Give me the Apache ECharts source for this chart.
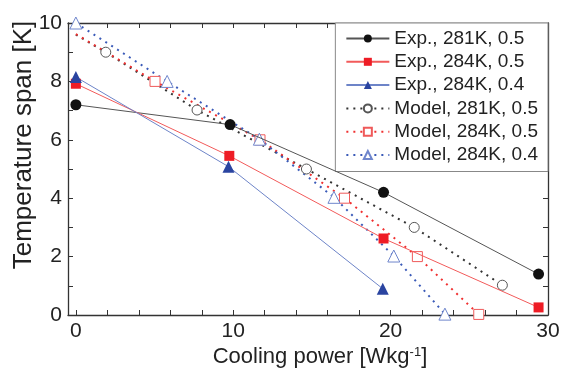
<!DOCTYPE html>
<html><head><meta charset="utf-8">
<script src="https://cdn.jsdelivr.net/npm/echarts@6/dist/echarts.min.js"></script>
<style>html,body{margin:0;padding:0;background:#fff}#c{width:564px;height:370px}</style>
</head><body><div id="c"></div>
<script>
// Experimental series [cooling power, temperature span]
const exp281_05 = [[0, 7.2], [9.8, 6.52], [19.55, 4.2], [29.4, 1.4]];
const exp284_05 = [[0, 7.92], [9.75, 5.45], [19.55, 2.62], [29.4, 0.26]];
const exp284_04 = [[0, 8.15], [9.7, 5.08], [19.5, 0.9]];
// Model series: line points, and which of them carry a marker
const mod281_05 = [[0, 9.6], [1.9, 9.0], [7.7, 7.02], [14.65, 5.0], [21.5, 3.0], [27.1, 1.02]];
const mod281_05_marked = [false, true, true, true, true, true];
const mod284_05 = [[0, 9.62], [5.03, 8.0], [11.7, 6.0], [17.07, 4.0], [21.7, 2.0], [25.6, 0.02]];
const mod284_05_marked = [false, true, true, true, true, true];
const mod284_04 = [[0, 10.0], [5.8, 8.0], [11.66, 6.02], [16.4, 4.03], [20.2, 2.02], [23.45, 0.03]];
const mod284_04_marked = [true, true, true, true, true, true];
const seriesNames = ['Exp., 281K, 0.5', 'Exp., 284K, 0.5', 'Exp., 284K, 0.4', 'Model, 281K, 0.5', 'Model, 284K, 0.5', 'Model, 284K, 0.4'];
const xLabelValues = [0, 10, 20, 30];
const xTickValues = [0, 2, 4, 6, 8, 10, 12, 14, 16, 18, 20, 22, 24, 26, 28, 30];

const chart = echarts.init(document.getElementById('c'), null, {renderer: 'canvas'});
const FONT = '"Liberation Sans", Arial, sans-serif';
const TXT = '#222';
const AX = '#333';

function marked(data, flags) {
  return data.map((d, i) => flags[i] ? d : {value: d, symbol: 'none'});
}
const dotType = [2, 5];

const xBase = {
  type: 'value', min: -0.5, max: 30,
  axisLine: {show: true, onZero: false, lineStyle: {color: AX, width: 1.3}},
  splitLine: {show: false},
};
const yBase = {
  type: 'value', min: 0, max: 10, interval: 2,
  axisLine: {show: true, onZero: false, lineStyle: {color: AX, width: 1.3}},
  splitLine: {show: false},
  minorTick: {show: true, splitNumber: 2, length: 5, lineStyle: {color: AX, width: 1}},
};

chart.setOption({
  animation: false,
  grid: {left: 68, right: 16, top: 23, bottom: 55, containLabel: false},
  xAxis: [
    Object.assign({}, xBase, {
      position: 'bottom',
      axisTick: {show: true, inside: true, length: 5, customValues: xTickValues, lineStyle: {color: AX, width: 1}},
      axisLabel: {show: true, customValues: xLabelValues, color: TXT, fontSize: 21, fontFamily: FONT, margin: 6},
    }),
    Object.assign({}, xBase, {
      position: 'top',
      axisTick: {show: true, inside: true, length: 5, customValues: xTickValues, lineStyle: {color: AX, width: 1}},
      axisLabel: {show: false},
    }),
  ],
  yAxis: [
    Object.assign({}, yBase, {
      position: 'left',
      axisTick: {show: true, inside: true, length: 5, lineStyle: {color: AX, width: 1}},
      axisLabel: {show: true, color: TXT, fontSize: 21, fontFamily: FONT, margin: 6},
    }),
    Object.assign({}, yBase, {
      position: 'right',
      axisTick: {show: true, inside: true, length: 5, lineStyle: {color: AX, width: 1}},
      axisLabel: {show: false},
    }),
  ],
  legend: {
    orient: 'vertical', right: 16, top: 23,
    padding: [6, 10, 7, 10], itemGap: 4.3, itemWidth: 43, itemHeight: 10,
    borderColor: '#888', borderWidth: 1, backgroundColor: '#fff',
    textStyle: {color: TXT, fontSize: 19, fontFamily: FONT},
    data: seriesNames,
  },
  graphic: [
    {type: 'text', z: 10,
      x: 24, y: 145, rotation: Math.PI / 2,
      style: {text: 'Temperature span [K]', fill: TXT, font: '26px "Liberation Sans", Arial, sans-serif', textAlign: 'center', textVerticalAlign: 'middle'}},
    {type: 'text', z: 10, x: 320, y: 357,
      style: {
        text: '{a|Cooling power [Wkg}{s|-1}{a|]}', textAlign: 'center', textVerticalAlign: 'middle',
        rich: {a: {fontSize: 22, fontFamily: FONT, fill: TXT, color: TXT}, s: {fontSize: 13, fontFamily: FONT, color: TXT, fill: TXT, verticalAlign: 'top', padding: [0, 0, 10, 0]}}
      }},
  ],
  series: [
    {name: seriesNames[0], type: 'line', data: exp281_05, symbol: 'circle', symbolSize: 11,
      itemStyle: {color: '#111'}, lineStyle: {color: '#555', width: 1}, z: 5},
    {name: seriesNames[1], type: 'line', data: exp284_05, symbol: 'rect', symbolSize: 10,
      itemStyle: {color: '#ee1c25'}, lineStyle: {color: '#f25a5a', width: 1}, z: 5},
    {name: seriesNames[2], type: 'line', data: exp284_04, symbol: 'triangle', symbolSize: 12,
      itemStyle: {color: '#2a44a0'}, lineStyle: {color: '#6d84c8', width: 1}, z: 5},
    {name: seriesNames[3], type: 'line', data: marked(mod281_05, mod281_05_marked), symbol: 'circle', symbolSize: 10,
      showAllSymbol: true,
      itemStyle: {color: '#fff', borderColor: '#555', borderWidth: 1},
      lineStyle: {color: '#333', width: 2, type: dotType}, z: 3},
    {name: seriesNames[4], type: 'line', data: marked(mod284_05, mod284_05_marked), symbol: 'rect', symbolSize: 10,
      showAllSymbol: true,
      itemStyle: {color: '#fff', borderColor: '#ef5a5a', borderWidth: 1},
      lineStyle: {color: '#f03030', width: 2, type: dotType}, z: 3},
    {name: seriesNames[5], type: 'line', data: marked(mod284_04, mod284_04_marked), symbol: 'triangle', symbolSize: 12,
      showAllSymbol: true,
      itemStyle: {color: '#fff', borderColor: '#6f86cc', borderWidth: 1},
      lineStyle: {color: '#3a5ab8', width: 2, type: dotType}, z: 3},
  ],
});
</script></body></html>
